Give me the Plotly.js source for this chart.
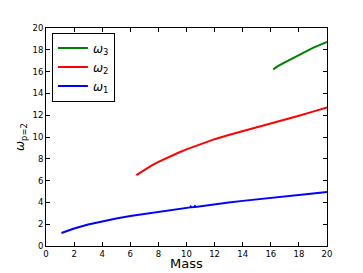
<!DOCTYPE html>
<html>
<head>
<meta charset="utf-8">
<script src="https://cdn.plot.ly/plotly-3.0.1.min.js"></script>
<style>html,body{margin:0;padding:0;background:#fff;}#chart{width:363px;height:273px;}</style>
</head>
<body>
<div id="chart"></div>
<script>
// omega_1 (blue)
const massW1 = [1.1, 1.5, 2, 3, 4, 5, 6, 7, 8, 9, 10, 10.25, 10.3, 10.35, 10.55, 10.6, 10.65, 11, 12, 13, 14, 15, 16, 17, 18, 19, 20];
const omegaW1 = [1.19, 1.38, 1.6, 1.97, 2.28, 2.53, 2.75, 2.95, 3.13, 3.32, 3.5, 3.54, 3.62, 3.55, 3.58, 3.66, 3.59, 3.66, 3.83, 3.99, 4.14, 4.29, 4.43, 4.56, 4.7, 4.82, 4.95];
// omega_2 (red)
const massW2 = [6.43, 7, 7.5, 8, 8.5, 9, 9.5, 10, 11, 12, 13, 14, 15, 16, 17, 18, 19, 20];
const omegaW2 = [6.5, 6.98, 7.37, 7.72, 8.03, 8.32, 8.6, 8.86, 9.35, 9.8, 10.18, 10.52, 10.87, 11.22, 11.57, 11.95, 12.33, 12.7];
// omega_3 (green)
const massW3 = [16.17, 16.5, 17, 17.5, 18, 18.5, 19, 19.5, 20];
const omegaW3 = [16.2, 16.5, 16.85, 17.2, 17.55, 17.88, 18.18, 18.45, 18.72];
const xTicks = [0, 2, 4, 6, 8, 10, 12, 14, 16, 18, 20];
const yTicks = [0, 2, 4, 6, 8, 10, 12, 14, 16, 18, 20];
const xTitle = 'Mass';
const yTitle = '<i>ω</i><sub>p=2</sub>';

const traces = [
  {x: massW1, y: omegaW1, mode: 'lines', name: '<i>ω</i><sub>1</sub>', line: {color: '#0000ff', width: 2}},
  {x: massW2, y: omegaW2, mode: 'lines', name: '<i>ω</i><sub>2</sub>', line: {color: '#ff0000', width: 2}},
  {x: massW3, y: omegaW3, mode: 'lines', name: '<i>ω</i><sub>3</sub>', line: {color: '#008000', width: 2}}
];

const axisCommon = {
  showgrid: false, zeroline: false, showline: true, linecolor: '#000', linewidth: 1,
  mirror: 'ticks', ticks: 'inside', ticklen: 4, tickcolor: '#000', tickwidth: 1,
  tickfont: {family: 'DejaVu Sans', size: 8.5, color: '#000'}
};

const layout = {
  width: 363, height: 273,
  margin: {l: 46, r: 36, t: 28, b: 27},
  paper_bgcolor: '#fff', plot_bgcolor: '#fff',
  showlegend: true,
  legend: {
    x: 0.021, y: 0.979, xanchor: 'left', yanchor: 'top',
    traceorder: 'reversed', bgcolor: '#fff', bordercolor: '#000', borderwidth: 1,
    font: {family: 'DejaVu Sans', size: 12, color: '#000'},
    itemwidth: 30
  },
  xaxis: Object.assign({}, axisCommon, {
    range: [0, 20], tickvals: xTicks, ticktext: xTicks.map(String)
  }),
  yaxis: Object.assign({}, axisCommon, {
    range: [0, 20], tickvals: yTicks, ticktext: yTicks.map(String)
  }),
  annotations: [
    {text: xTitle, xref: 'paper', yref: 'paper', x: 0.5, y: 0, xanchor: 'center', yanchor: 'top',
     yshift: -9, borderpad: 0, showarrow: false, font: {family: 'DejaVu Sans', size: 13, color: '#000'}},
    {text: yTitle, xref: 'paper', yref: 'paper', x: 0, y: 0.5, xanchor: 'right', yanchor: 'middle',
     xshift: -15, textangle: -90, showarrow: false, font: {family: 'DejaVu Sans', size: 12, color: '#000'}}
  ]
};

Plotly.newPlot('chart', traces, layout, {displayModeBar: false, staticPlot: true});
</script>
</body>
</html>
